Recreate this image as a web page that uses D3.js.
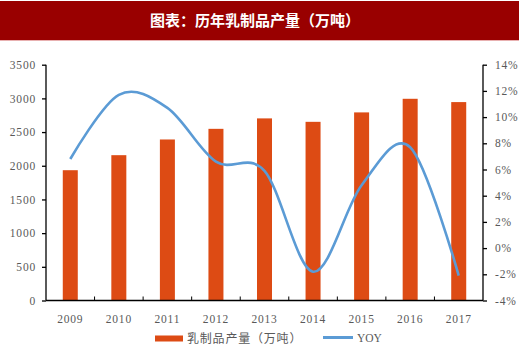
<!DOCTYPE html>
<html><head><meta charset="utf-8">
<script src="https://cdn.jsdelivr.net/npm/d3@7/dist/d3.min.js"></script>
<style>body{margin:0;background:#fff}svg{display:block}</style>
</head><body><svg id="c" width="520" height="359"></svg>
<script>
const categories = ["2009","2010","2011","2012","2013","2014","2015","2016","2017"];
const production = [1934, 2157, 2390, 2548, 2703, 2652, 2792, 2994, 2945];
const yoy = [6.8, 11.7, 10.7, 6.6, 5.9, -1.8, 4.8, 7.7, -2.1];
const leftTicks = [0,500,1000,1500,2000,2500,3000,3500];
const rightTicks = [-4,-2,0,2,4,6,8,10,12,14];
const title = "图表：历年乳制品产量（万吨）";
const legendLabels = ["乳制品产量（万吨）","YOY"];

const svg = d3.select("#c");
const L = 46, R = 483, T = 64.7, B = 300.5;
const barColor = "#DD4B14", lineColor = "#5B9BD5", textColor = "#595959";

svg.append("rect").attr("x",0).attr("y",1).attr("width",519).attr("height",39).attr("fill","#990000");
svg.append("rect").attr("x",0).attr("y",40).attr("width",519).attr("height",1).attr("fill","#e8b0b0");
svg.append("text").attr("x",255).attr("y",26).attr("text-anchor","middle")
  .attr("fill","#fff").attr("font-family","Noto Sans CJK SC").attr("font-weight","bold")
  .attr("font-size",15).text(title);

const x = d3.scaleBand().domain(categories).range([L,R]);
const yL = d3.scaleLinear().domain([0,3500]).range([B,T]);
const yR = d3.scaleLinear().domain([-4,14]).range([B,T]);

const bw = 15;
svg.append("g").selectAll("rect").data(production).join("rect")
  .attr("x",(d,i)=>x(categories[i])+x.bandwidth()/2-bw/2)
  .attr("y",d=>yL(d)).attr("width",bw).attr("height",d=>B-yL(d))
  .attr("fill",barColor);

const font = "Liberation Serif";
const gL = svg.append("g").attr("transform",`translate(${L},0)`)
  .call(d3.axisLeft(yL).tickValues(leftTicks).tickSize(4).tickPadding(6).tickFormat(d3.format("d")));
const gR = svg.append("g").attr("transform",`translate(${R},0)`)
  .call(d3.axisRight(yR).tickValues(rightTicks).tickSize(4).tickPadding(8).tickFormat(d=>d+"%"));
const xTicks = d3.range(categories.length+1).map(i=>L+i*x.bandwidth());
const gX = svg.append("g").attr("transform",`translate(0,${B})`)
  .call(d3.axisBottom(x).tickSize(0).tickPadding(14));
svg.append("g").selectAll("line").data(xTicks.slice(1,-1)).join("line")
  .attr("x1",d=>d).attr("x2",d=>d).attr("y1",B).attr("y2",B-4)
  .attr("stroke","#000").attr("stroke-width",1);

[gL,gR,gX].forEach(g=>{
  g.select(".domain").attr("stroke","#000").attr("stroke-width",1.3);
  g.selectAll(".tick line").attr("stroke","#000").attr("stroke-width",1.3);
  g.selectAll("text").attr("font-family",font).attr("font-size",11.5)
   .attr("fill",textColor).attr("letter-spacing",0.8);
});
gL.select(".domain").attr("d",`M-0,${T}V${B}`);
gR.select(".domain").attr("d",`M0,${T}V${B}`);
gX.select(".domain").attr("d",`M${L},0H${R}`);

const line = d3.line()
  .x((d,i)=>x(categories[i])+x.bandwidth()/2)
  .y(d=>yR(d)).curve(d3.curveCardinal.tension(0));
svg.append("path").datum(yoy).attr("d",line).attr("fill","none")
  .attr("stroke",lineColor).attr("stroke-width",2.6);

// legend
svg.append("rect").attr("x",155).attr("y",335.5).attr("width",28).attr("height",6).attr("fill",barColor);
svg.append("text").attr("x",187).attr("y",343).attr("font-family","Noto Sans CJK SC")
  .attr("font-size",12).attr("letter-spacing",0.8).attr("fill",textColor).text(legendLabels[0]);
svg.append("line").attr("x1",323).attr("x2",353).attr("y1",337.5).attr("y2",337.5)
  .attr("stroke",lineColor).attr("stroke-width",3);
svg.append("text").attr("x",357).attr("y",342).attr("font-family",font)
  .attr("font-size",11.5).attr("fill",textColor).text(legendLabels[1]);
</script></body></html>
